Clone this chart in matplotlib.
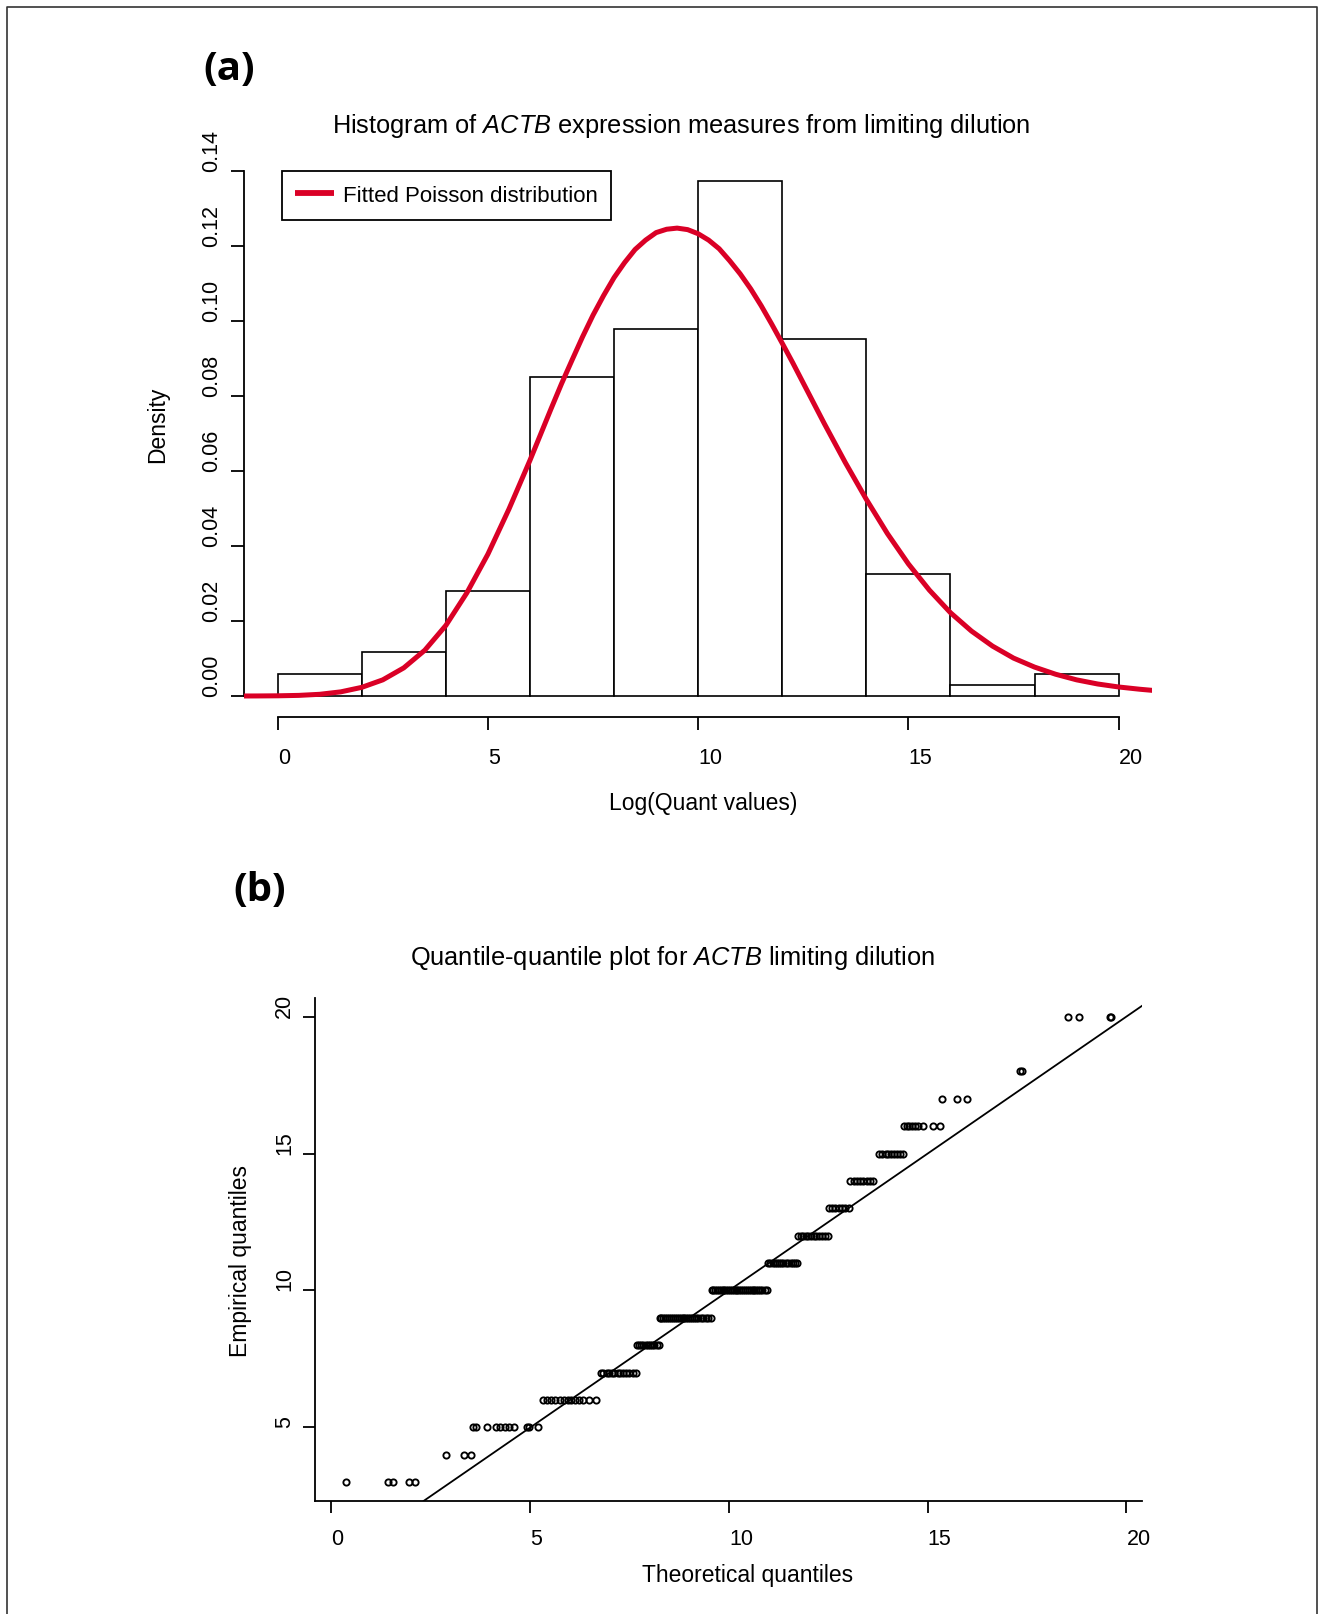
import matplotlib
matplotlib.use("Agg")
import numpy as np
import matplotlib.pyplot as plt
from matplotlib.lines import Line2D

# tamanho final em pixels (dpi 100)
W, H = 1334, 1615

plt.rcParams['font.family'] = ['Liberation Sans', 'DejaVu Sans']
plt.rcParams['mathtext.fontset'] = 'custom'
plt.rcParams['mathtext.rm'] = 'Liberation Sans'
plt.rcParams['mathtext.it'] = 'Liberation Sans:italic'

# (a) histograma: classes de largura 2 e densidade
bin_left = [0, 2, 4, 6, 8, 10, 12, 14, 16, 18]
bin_width = 2
densidade = [0.0058, 0.0116, 0.0281, 0.0849, 0.0978, 0.1372, 0.0951, 0.0325, 0.0030, 0.0058]

# curva de Poisson ajustada
curva_x = [-0.8, -0.5, 0.0, 0.5, 1.0, 1.5, 2.0, 2.5, 3.0, 3.5, 4.0, 4.5, 5.0, 5.5, 6.0, 6.5,
           6.75, 7.0, 7.25, 7.5, 7.75, 8.0, 8.25, 8.5, 8.75, 9.0, 9.25, 9.5, 9.75, 10.0,
           10.25, 10.5, 10.75, 11.0, 11.25, 11.5, 11.75, 12.0, 12.25, 12.5, 13.0, 13.5,
           14.0, 14.5, 15.0, 15.5, 16.0, 16.5, 17.0, 17.5, 18.0, 18.5, 19.0, 19.5, 20.0,
           20.5, 20.8]
curva_y = [0.0, 0.00001, 0.00005, 0.00016, 0.00045, 0.0011, 0.0023, 0.0043, 0.0075, 0.0122,
           0.0188, 0.0275, 0.0378, 0.0498, 0.0628, 0.0765,
           0.0832, 0.0895, 0.0957, 0.1015, 0.1067, 0.1115, 0.1155, 0.1190, 0.1215, 0.1235,
           0.1244, 0.1247, 0.1243, 0.1232,
           0.1215, 0.1192, 0.1160, 0.1125, 0.1085, 0.1040, 0.0991, 0.0940, 0.0888, 0.0834,
           0.0726, 0.0622,
           0.0524, 0.0433, 0.0352, 0.0282, 0.0222, 0.0173, 0.0133, 0.0101, 0.0077, 0.0058,
           0.0043, 0.0032, 0.0024, 0.0018, 0.0015]

# (b) qq-plot: quantis empiricos (niveis inteiros) e quantos pontos em cada nivel
niveis = [3, 4, 5, 6, 7, 8, 9, 10, 11, 12, 13, 14, 15, 16, 17, 18, 20]
n_por_nivel = [5, 3, 11, 13, 13, 11, 26, 30, 14, 12, 7, 8, 9, 9, 3, 2, 4]

# quantis teoricos, na mesma ordem
teoricos = [
    0.36, 1.41, 1.55, 1.95, 2.10,
    2.88, 3.34, 3.52,
    3.55, 3.64, 3.92, 4.14, 4.24, 4.36, 4.47, 4.58, 4.92, 4.97, 5.20,
    5.33, 5.42, 5.52, 5.62, 5.74, 5.86, 5.95, 6.02, 6.12, 6.22, 6.33, 6.48, 6.65,
    6.77, 6.83, 6.92, 6.97, 7.06, 7.11, 7.20, 7.27, 7.33, 7.42, 7.48, 7.58, 7.66,
    7.68, 7.73, 7.79, 7.84, 7.90, 7.95, 8.01, 8.06, 8.12, 8.18, 8.24,
    8.26, 8.30, 8.35, 8.40, 8.45, 8.50, 8.55, 8.60, 8.65, 8.70, 8.74, 8.79, 8.84,
    8.88, 8.93, 8.98, 9.03, 9.08, 9.13, 9.18, 9.23, 9.29, 9.35, 9.41, 9.47, 9.54,
    9.56, 9.60, 9.65, 9.70, 9.74, 9.79, 9.84, 9.88, 9.93, 9.98, 10.03, 10.07, 10.12,
    10.17, 10.21, 10.26, 10.31, 10.36, 10.40, 10.45, 10.50, 10.55, 10.60, 10.64,
    10.69, 10.74, 10.79, 10.84, 10.90, 10.96,
    10.98, 11.04, 11.10, 11.15, 11.21, 11.26, 11.32, 11.37, 11.43, 11.49, 11.55,
    11.60, 11.66, 11.72,
    11.74, 11.80, 11.87, 11.93, 12.00, 12.06, 12.13, 12.20, 12.27, 12.34, 12.42, 12.49,
    12.51, 12.59, 12.67, 12.76, 12.84, 12.93, 13.01,
    13.04, 13.15, 13.22, 13.30, 13.38, 13.46, 13.55, 13.63,
    13.78, 13.86, 13.94, 14.01, 14.08, 14.16, 14.23, 14.30, 14.38,
    14.40, 14.47, 14.54, 14.61, 14.68, 14.75, 14.87, 15.12, 15.30,
    15.37, 15.74, 15.98,
    17.32, 17.37,
    18.53, 18.81, 19.58, 19.60,
]

# reta de referencia do qq-plot
qq_intercepto = 0.0
qq_inclinacao = 1.0

vermelho = '#DA0026'


def eixo(fig, esq, dir_, topo, base):
    # cria eixos a partir de posicoes em pixels
    return fig.add_axes([esq / W, 1 - base / H, (dir_ - esq) / W, (base - topo) / H])


def rotulos_estilo_r(ax):
    # rotulos do eixo x comecam no tick, os do eixo y ficam de pe acima do tick
    for lbl in ax.get_xticklabels():
        lbl.set_ha('left')
    for lbl in ax.get_yticklabels():
        lbl.set_rotation(90)
        lbl.set_va('bottom')


fig = plt.figure(figsize=(W / 100, H / 100), dpi=100)

# ---------------- (a) ----------------
ax1 = eixo(fig, 244, 1152.3, 150.7, 718)
ax1.bar(bin_left, densidade, width=bin_width, align='edge', facecolor='white',
        edgecolor='black', linewidth=1.2, zorder=2)
ax1.plot(curva_x, curva_y, color=vermelho, linewidth=3.6, solid_capstyle='butt',
         solid_joinstyle='round', zorder=3, label='Fitted Poisson distribution')
ax1.set_xlim(-0.8, 20.8)
ax1.set_ylim(-0.0056, 0.1456)

for lado in ['top', 'right']:
    ax1.spines[lado].set_visible(False)
ax1.spines['left'].set_bounds(0, 0.14)
ax1.spines['bottom'].set_bounds(0, 20)
for lado in ['left', 'bottom']:
    ax1.spines[lado].set_linewidth(1.3)

ax1.set_xticks([0, 5, 10, 15, 20])
ax1.set_yticks([0, 0.02, 0.04, 0.06, 0.08, 0.10, 0.12, 0.14])
ax1.set_yticklabels(['0.00', '0.02', '0.04', '0.06', '0.08', '0.10', '0.12', '0.14'])
ax1.tick_params(axis='both', direction='out', length=9.4, width=1.3, labelsize=15.5)
ax1.tick_params(axis='x', pad=12)
ax1.tick_params(axis='y', pad=6)
rotulos_estilo_r(ax1)

leg = ax1.legend(loc='upper left', bbox_to_anchor=(281.7 / W, 1 - 172 / H),
                 bbox_transform=fig.transFigure, borderaxespad=0, fontsize=16,
                 handlelength=1.75, handletextpad=0.38, borderpad=0.62,
                 fancybox=False, framealpha=1)
leg.get_frame().set_edgecolor('black')
leg.get_frame().set_linewidth(1.3)
for linha in leg.get_lines():
    linha.set_linewidth(4.2)

fig.text(229.5 / W, 1 - 69 / H, '(a)', fontsize=29, fontweight='bold',
         family='Open Sans', ha='center', va='center')
fig.text(681 / W, 1 - 125.7 / H,
         r'Histogram of $\it{ACTB}$ expression measures from limiting dilution',
         fontsize=18.3, ha='center', va='center')
fig.text(703 / W, 1 - 803.5 / H, 'Log(Quant values)', fontsize=16.5, ha='center', va='center')
fig.text(157.6 / W, 1 - 425 / H, 'Density', fontsize=16.5, rotation=90,
         ha='center', va='center')

# ---------------- (b) ----------------
empiricos = np.repeat(niveis, n_por_nivel)

ax2 = eixo(fig, 315.2, 1142, 998.9, 1501.9)
ax2.plot(teoricos, empiricos, linestyle='none', marker='o', markersize=4.5,
         markerfacecolor='none', markeredgecolor='black', markeredgewidth=1.35)
ax2.axline((0, qq_intercepto), slope=qq_inclinacao, color='black', linewidth=1.3)
ax2.set_xlim(-0.41, 20.39)
ax2.set_ylim(2.32, 20.68)

for lado in ['top', 'right']:
    ax2.spines[lado].set_visible(False)
for lado in ['left', 'bottom']:
    ax2.spines[lado].set_linewidth(1.3)

ax2.set_xticks([0, 5, 10, 15, 20])
ax2.set_yticks([5, 10, 15, 20])
ax2.tick_params(axis='both', direction='out', length=8.6, width=1.3, labelsize=15.5)
ax2.tick_params(axis='x', pad=11)
ax2.tick_params(axis='y', pad=6)
rotulos_estilo_r(ax2)

fig.text(260 / W, 1 - 891 / H, '(b)', fontsize=29, fontweight='bold',
         family='Open Sans', ha='center', va='center')
fig.text(672.7 / W, 1 - 958 / H,
         r'Quantile-quantile plot for $\it{ACTB}$ limiting dilution',
         fontsize=18.3, ha='center', va='center')
fig.text(747.3 / W, 1 - 1576 / H, 'Theoretical quantiles', fontsize=16.5,
         ha='center', va='center')
fig.text(241 / W, 1 - 1261 / H, 'Empirical quantiles', fontsize=16.5, rotation=90,
         ha='center', va='center')

# moldura da figura (esquerda, topo e direita)
moldura_x = [7 / W, 7 / W, 1317 / W, 1317 / W]
moldura_y = [0, 1 - 8 / H, 1 - 8 / H, 0]
fig.add_artist(Line2D(moldura_x, moldura_y, color='#333333', linewidth=1.2))

fig.savefig('out.png', dpi=100)
